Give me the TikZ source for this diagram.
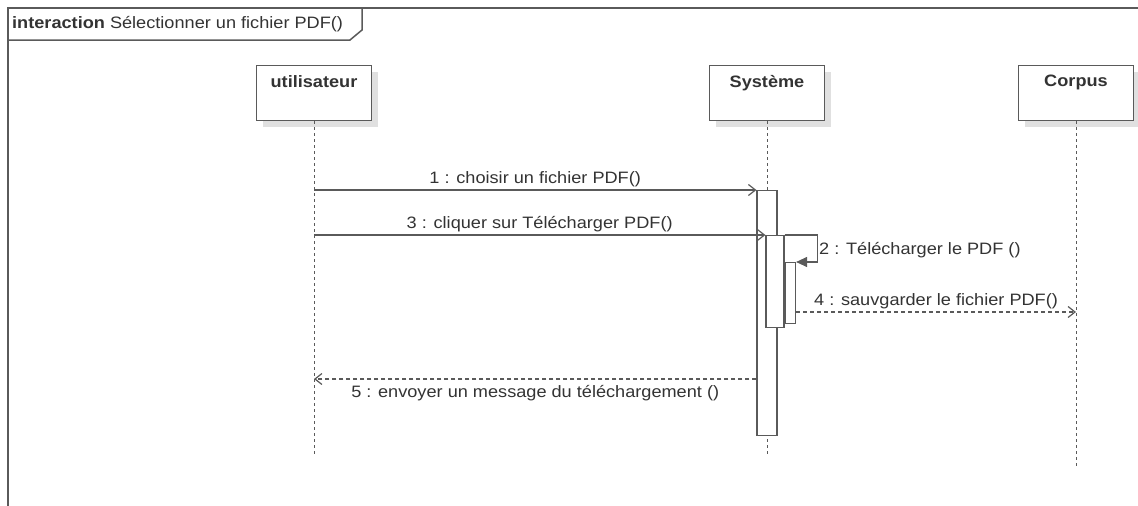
\documentclass[tikz,border=0pt]{standalone}
\usepackage{fontspec}
\setmainfont{Liberation Sans}[FakeStretch=1.1]
\usetikzlibrary{arrows.meta,shadows}
\definecolor{umlline}{HTML}{5A5A5A}
\definecolor{umltext}{HTML}{333333}

\tikzset{
  lbl/.style={text=umltext, inner sep=2pt, font=\fontsize{16.5}{19}\selectfont},
  head/.style={draw=umlline, line width=1.2pt, fill=white, minimum width=115pt,
    minimum height=55pt, anchor=north,
    drop shadow={shadow xshift=6pt, shadow yshift=-6pt, fill=black!12, opacity=1},
    label={[lbl, font=\fontsize{16.5}{19}\selectfont\bfseries, anchor=north, yshift=-8pt]north:#1}},
  lifeline/.style={draw=umlline, line width=1pt, dash pattern=on 3pt off 3pt},
  act/.style={draw=umlline, line width=1.2pt, fill=white, inner sep=0pt, anchor=north},
  msg/.style={draw=umlline, line width=1.2pt, -{Straight Barb[length=7pt,width=11pt]}},
  reply/.style={msg, dash pattern=on 4pt off 3pt},
  selfmsg/.style={draw=umlline, line width=1.2pt, -{Triangle[length=11pt,width=10pt]}},
}

\begin{document}
\begin{tikzpicture}[x=1pt,y=-1pt]
  \useasboundingbox (0,0) rectangle (1138,506);

  \draw[umlline, line width=1.5pt] (1138,8) -| (8,506);
  \draw[umlline, line width=1.5pt] (8,40) -- (350,40) -- (362,30) -- (362,8);
  \node[lbl, anchor=west] (title) at (10,24) {\textbf{interaction} Sélectionner un fichier PDF()};

  \node[head=utilisateur] (usr) at (314,65) {};
  \node[head=Système] (sys) at (767,65) {};
  \node[head=Corpus] (cor) at (1076,65) {};

  \coordinate (end) at (0,455);
  \coordinate (endc) at (0,467);
  \draw[lifeline] (usr.south) -- (usr.south |- end);
  \draw[lifeline] (sys.south) -- (sys.south |- end);
  \draw[lifeline] (cor.south) -- (cor.south |- endc);

  \node[act, minimum width=20pt, minimum height=245pt] (act1) at (767,190) {};
  \node[act, minimum width=18pt, minimum height=92pt] (act2) at (775,235) {};
  \node[act, minimum width=10pt, minimum height=61pt] (act3) at (790.5,262) {};

  \draw[msg] (usr |- act1.north) -- node[lbl, above] {1 : choisir un fichier PDF()} (act1.north west);
  \draw[msg] (usr |- act2.north) -- node[lbl, above] {3 : cliquer sur Télécharger PDF()} (act2.north west);
  \draw[selfmsg] (act2.north east) -- ++(33,0) coordinate (s2)
    -- node[lbl, right, inner sep=1pt, yshift=-2pt] {2 : Télécharger le PDF ()} (s2 |- act3.north) -- (act3.north east);

  \coordinate (m4) at (0,312);
  \coordinate (m5) at (0,379);
  \draw[reply] (act3.east |- m4) -- node[lbl, above] {4 : sauvgarder le fichier PDF()} (cor |- m4);
  \draw[reply] (act1.west |- m5) -- node[lbl, below=4pt] {5 : envoyer un message du téléchargement ()} (usr |- m5);
\end{tikzpicture}
\end{document}
